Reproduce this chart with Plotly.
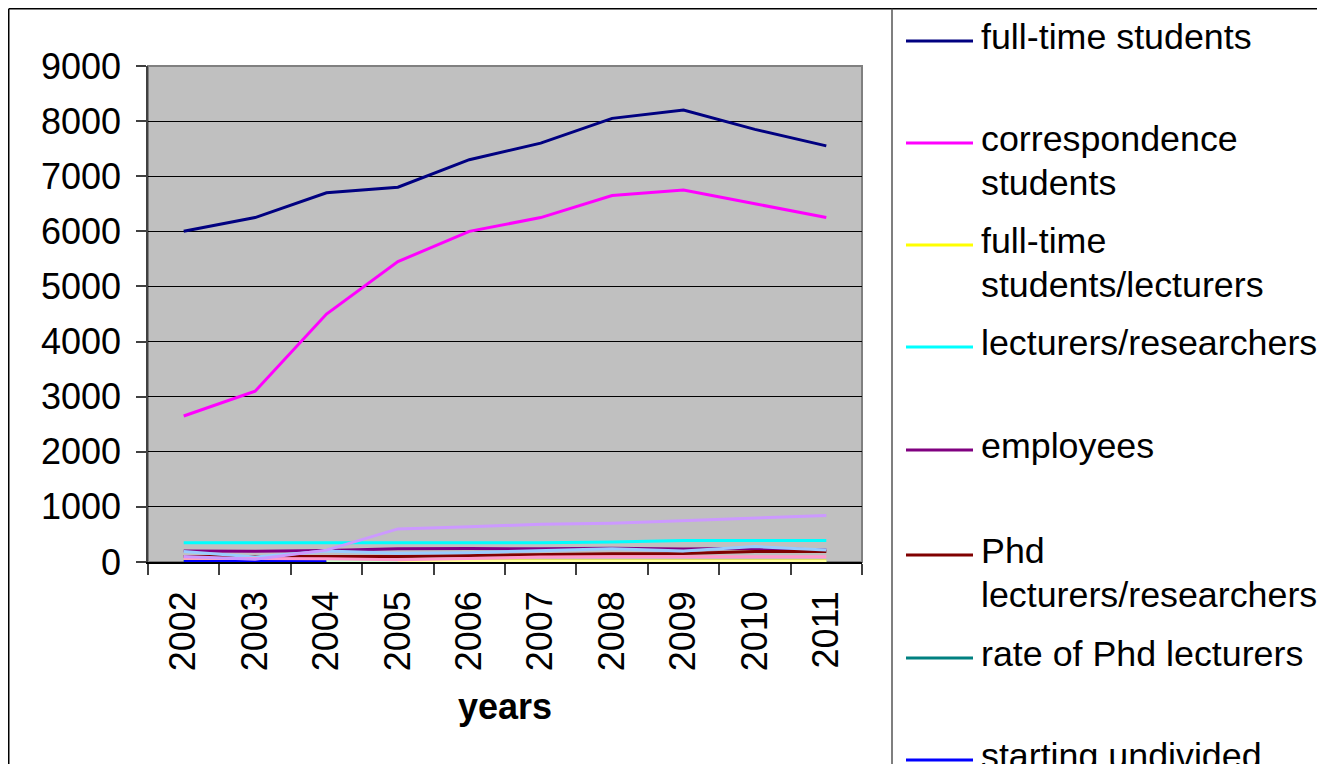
import plotly.graph_objects as go

years = ["2002", "2003", "2004", "2005", "2006", "2007", "2008", "2009", "2010", "2011"]

full_time_students = [6000, 6250, 6700, 6800, 7300, 7600, 8050, 8200, 7850, 7550]
correspondence_students = [2650, 3100, 4500, 5450, 6000, 6250, 6650, 6750, 6500, 6250]
ft_students_per_lecturer = [18, 18, 19, 19, 20, 21, 22, 21, 20, 19]
lecturers_researchers = [350, 350, 350, 350, 350, 350, 365, 390, 390, 390]
employees = [200, 195, 210, 240, 245, 240, 250, 235, 250, 220]
phd_lecturers = [100, 100, 100, 100, 120, 140, 150, 155, 190, 190]
rate_phd = [0.3, 0.3, 0.3, 0.3, 0.35, 0.4, 0.42, 0.45, 0.48, 0.5]
starting_undivided = [10, 10, 10, None, None, None, None, None, None, None]
series_11 = [None, None, 10, 10, 10, 10, 10, 10, 10, 10]
series_12 = [None, None, None, 10, 10, 10, 10, 10, 10, 10]
series_13 = [190, 90, 200, 160, 170, 200, 240, 200, 280, 220]
series_14 = [70, 70, 60, 40, 70, 90, 95, 95, 95, 95]
series_15 = [100, 50, 215, 600, 640, 685, 705, 750, 790, 845]

series = [
    ("full-time students", full_time_students, "#000080"),
    ("correspondence students", correspondence_students, "#FF00FF"),
    ("full-time students/lecturers", ft_students_per_lecturer, "#FFFF00"),
    ("lecturers/researchers", lecturers_researchers, "#00FFFF"),
    ("employees", employees, "#800080"),
    ("Phd lecturers/researchers", phd_lecturers, "#800000"),
    ("rate of Phd lecturers", rate_phd, "#008080"),
    ("starting undivided", starting_undivided, "#0000FF"),
    ("series 11", series_11, "#CCFFCC"),
    ("series 12", series_12, "#FFFF99"),
    ("series 13", series_13, "#99CCFF"),
    ("series 14", series_14, "#FF99CC"),
    ("series 15", series_15, "#CC99FF"),
]

# legend entries: (lines of text, colour, sample-line y in screen px)
legend_entries = [
    (["full-time students"], "#000080", 41),
    (["correspondence", "students"], "#FF00FF", 143),
    (["full-time", "students/lecturers"], "#FFFF00", 245),
    (["lecturers/researchers"], "#00FFFF", 347),
    (["employees"], "#800080", 450),
    (["Phd", "lecturers/researchers"], "#800000", 555),
    (["rate of Phd lecturers"], "#008080", 658),
    (["starting undivided"], "#0000FF", 760),
]

FONT = "Liberation Sans, Arial, sans-serif"
FS = 36
LFS = 35.8
OFF = 8  # page body margin
W, H = 1325, 764
# plot area in screen pixels
SL, SR, ST, SB = 148, 862, 66, 562
L, R, T, B = SL - OFF, SR - OFF, ST - OFF, SB - OFF
PW, PH = R - L, B - T


def px(x):
    return (x - SL) / PW


def py(y):
    return (SB - y) / PH


fig = go.Figure()
for name, vals, color in series:
    fig.add_trace(go.Scatter(
        x=years, y=vals, name=name, mode="lines",
        line=dict(color=color, width=3), showlegend=False,
    ))

shapes = []
annotations = []

# plot-area border (gray)
shapes.append(dict(type="rect", xref="paper", yref="paper", x0=0, x1=1, y0=0, y1=1,
                   line=dict(color="#808080", width=2), layer="below"))
# outer chart border
shapes.append(dict(type="line", xref="paper", yref="paper", x0=px(8.75), x1=px(1340),
                   y0=py(8.75), y1=py(8.75), line=dict(color="#000000", width=1.5)))
shapes.append(dict(type="line", xref="paper", yref="paper", x0=px(8.75), x1=px(8.75),
                   y0=py(8.75), y1=py(790), line=dict(color="#000000", width=1.5)))
# legend box left edge
shapes.append(dict(type="line", xref="paper", yref="paper", x0=px(892), x1=px(892),
                   y0=py(8.75), y1=py(790), line=dict(color="#555555", width=1.5)))

for lines, color, ly in legend_entries:
    shapes.append(dict(type="line", xref="paper", yref="paper", x0=px(906), x1=px(973),
                       y0=py(ly), y1=py(ly), line=dict(color=color, width=3)))
    for i, txt in enumerate(lines):
        annotations.append(dict(
            xref="paper", yref="paper", x=px(979), y=py(ly - 4 + 44 * i), text=txt,
            xanchor="left", yanchor="middle", align="left", showarrow=False,
            font=dict(family=FONT, size=LFS, color="#000000"),
        ))

fig.update_layout(
    width=W, height=H,
    margin=dict(l=L, r=W - R, t=T, b=H - B, pad=0),
    paper_bgcolor="#FFFFFF",
    plot_bgcolor="#C0C0C0",
    font=dict(family=FONT, size=FS, color="#000000"),
    shapes=shapes,
    annotations=annotations,
    showlegend=False,
)
fig.update_xaxes(
    type="category", range=[-0.5, 9.5], tickson="boundaries", ticks="outside", ticklen=11,
    tickcolor="#404040", tickwidth=1.5, tickangle=-90,
    showline=True, linecolor="#000000", linewidth=1.5, showgrid=False,
    tickfont=dict(family=FONT, size=FS, color="#000000"),
    ticklabelstandoff=13,
    title=dict(text="<b>years</b>", font=dict(family=FONT, size=FS, color="#000000"), standoff=24),
)
fig.update_yaxes(
    range=[0, 9000], dtick=1000, tick0=0, ticks="outside", ticklen=10,
    tickcolor="#404040", tickwidth=1.5,
    showline=True, linecolor="#404040", linewidth=1.5,
    showgrid=True, gridcolor="#000000", gridwidth=1, zeroline=False,
    tickfont=dict(family=FONT, size=FS, color="#000000"),
    ticklabelstandoff=8,
)

fig.write_html("out.html")
